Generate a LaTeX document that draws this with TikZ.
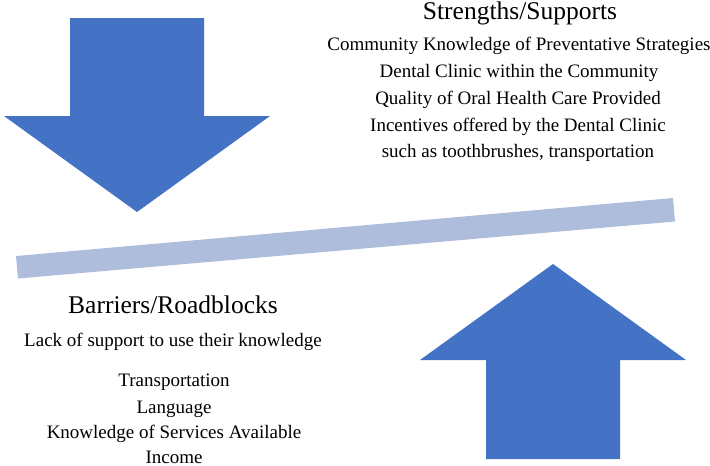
\documentclass[tikz,border=0pt]{standalone}
\usepackage{fontspec}
\setmainfont{Liberation Serif}
\definecolor{arrowblue}{HTML}{4472C4}
\definecolor{barblue}{HTML}{AFBDDD}
\begin{document}
\begin{tikzpicture}[x=1pt,y=-1pt,
  arrowshape/.style={fill=arrowblue,draw=none},
  barshape/.style={fill=barblue,draw=none},
  title/.style={anchor=base,inner sep=0pt,font=\fontsize{25.5}{30}\selectfont},
  body/.style={anchor=base,inner sep=0pt,font=\fontsize{19}{23}\selectfont}]
\useasboundingbox (0,0) rectangle (710,466);
% down arrow
\fill[arrowshape] (70,18) -- (204,18) -- (204,116) -- (270,116) -- (137,212) -- (4,116) -- (70,116) -- cycle;
% up arrow
\fill[arrowshape] (553,264) -- (686,360) -- (620,360) -- (620,459) -- (486,459) -- (486,360) -- (420,360) -- cycle;
% bar
\fill[barshape] (16,256) -- (673,198) -- (675,221.5) -- (18,278.5) -- cycle;
% strengths
\node[title] (s0) at (520,19) {Strengths/Supports};
\node[body] (s1) at (519,50) {Community Knowledge of Preventative Strategies};
\node[body] (s2) at (519,77) {Dental Clinic within the Community};
\node[body] (s3) at (518,104) {Quality of Oral Health Care Provided};
\node[body] (s4) at (518,131) {Incentives offered by the Dental Clinic};
\node[body] (s5) at (518,157) {such as toothbrushes, transportation};
% barriers
\node[title] (b0) at (173,313) {Barriers/Roadblocks};
\node[body] (b1) at (173,346) {Lack of support to use their knowledge};
\node[body] (b2) at (174,386) {Transportation};
\node[body] (b3) at (174,413) {Language};
\node[body] (b4) at (174,438) {Knowledge of Services Available};
\node[body] (b5) at (174,463) {Income};
\end{tikzpicture}
\end{document}
